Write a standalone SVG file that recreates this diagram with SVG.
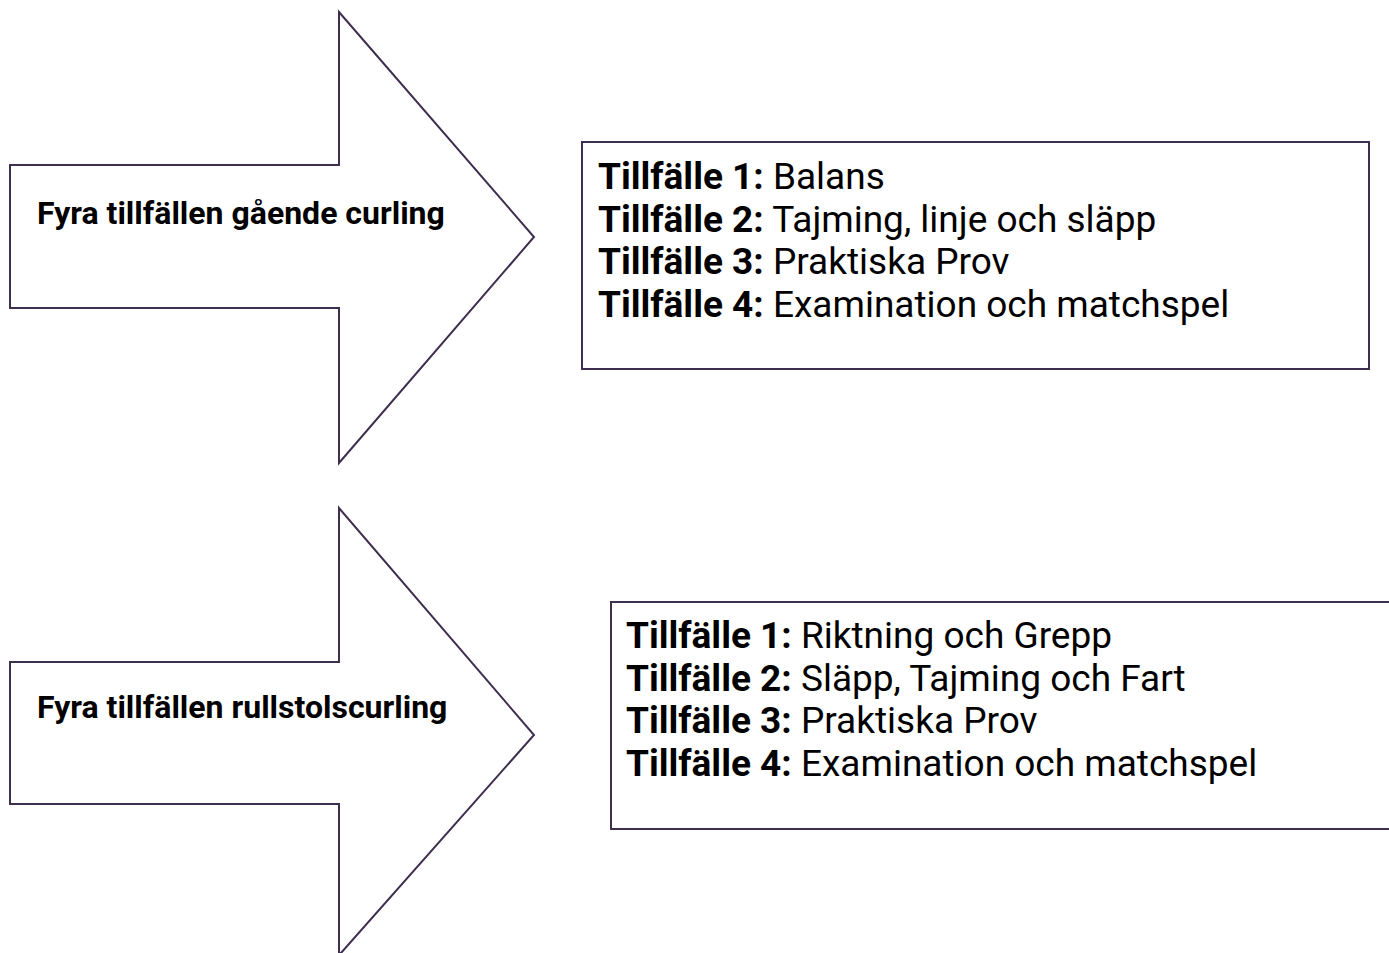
<svg xmlns="http://www.w3.org/2000/svg" width="1389" height="953" viewBox="0 0 1389 953">
<style>
.shape{fill:#ffffff;stroke:#3f2f4f;stroke-width:2;}
.lbl{font-family:Roboto,"Liberation Sans",sans-serif;font-weight:bold;font-size:32px;fill:#000;}
.txt{font-family:Roboto,"Liberation Sans",sans-serif;font-size:37px;fill:#000;}
.b{font-weight:bold;}
</style>
<rect width="1389" height="953" fill="#ffffff"/>
<g id="arrow1">
<polygon class="shape" points="10,165 339,165 339,12 534,237 339,463 339,308 10,308"/>
<text class="lbl" x="37" y="224">Fyra tillfällen gående curling</text>
</g>
<g id="box1">
<rect class="shape" x="582" y="142" width="787" height="227"/>
<text class="txt" x="598" y="189"><tspan class="b">Tillfälle 1:</tspan> Balans</text>
<text class="txt" x="598" y="232"><tspan class="b">Tillfälle 2:</tspan> Tajming, linje och släpp</text>
<text class="txt" x="598" y="274"><tspan class="b">Tillfälle 3:</tspan> Praktiska Prov</text>
<text class="txt" x="598" y="317"><tspan class="b">Tillfälle 4:</tspan> Examination och matchspel</text>
</g>
<g id="arrow2">
<polygon class="shape" points="10,662 339,662 339,508 534,735 341,953 339,953 339,804 10,804"/>
<text class="lbl" x="37" y="718">Fyra tillfällen rullstolscurling</text>
</g>
<g id="box2">
<rect class="shape" x="611" y="602" width="800" height="227"/>
<text class="txt" x="626" y="648"><tspan class="b">Tillfälle 1:</tspan> Riktning och Grepp</text>
<text class="txt" x="626" y="691"><tspan class="b">Tillfälle 2:</tspan> Släpp, Tajming och Fart</text>
<text class="txt" x="626" y="733"><tspan class="b">Tillfälle 3:</tspan> Praktiska Prov</text>
<text class="txt" x="626" y="776"><tspan class="b">Tillfälle 4:</tspan> Examination och matchspel</text>
</g>
<g id="connectors"></g>
</svg>
